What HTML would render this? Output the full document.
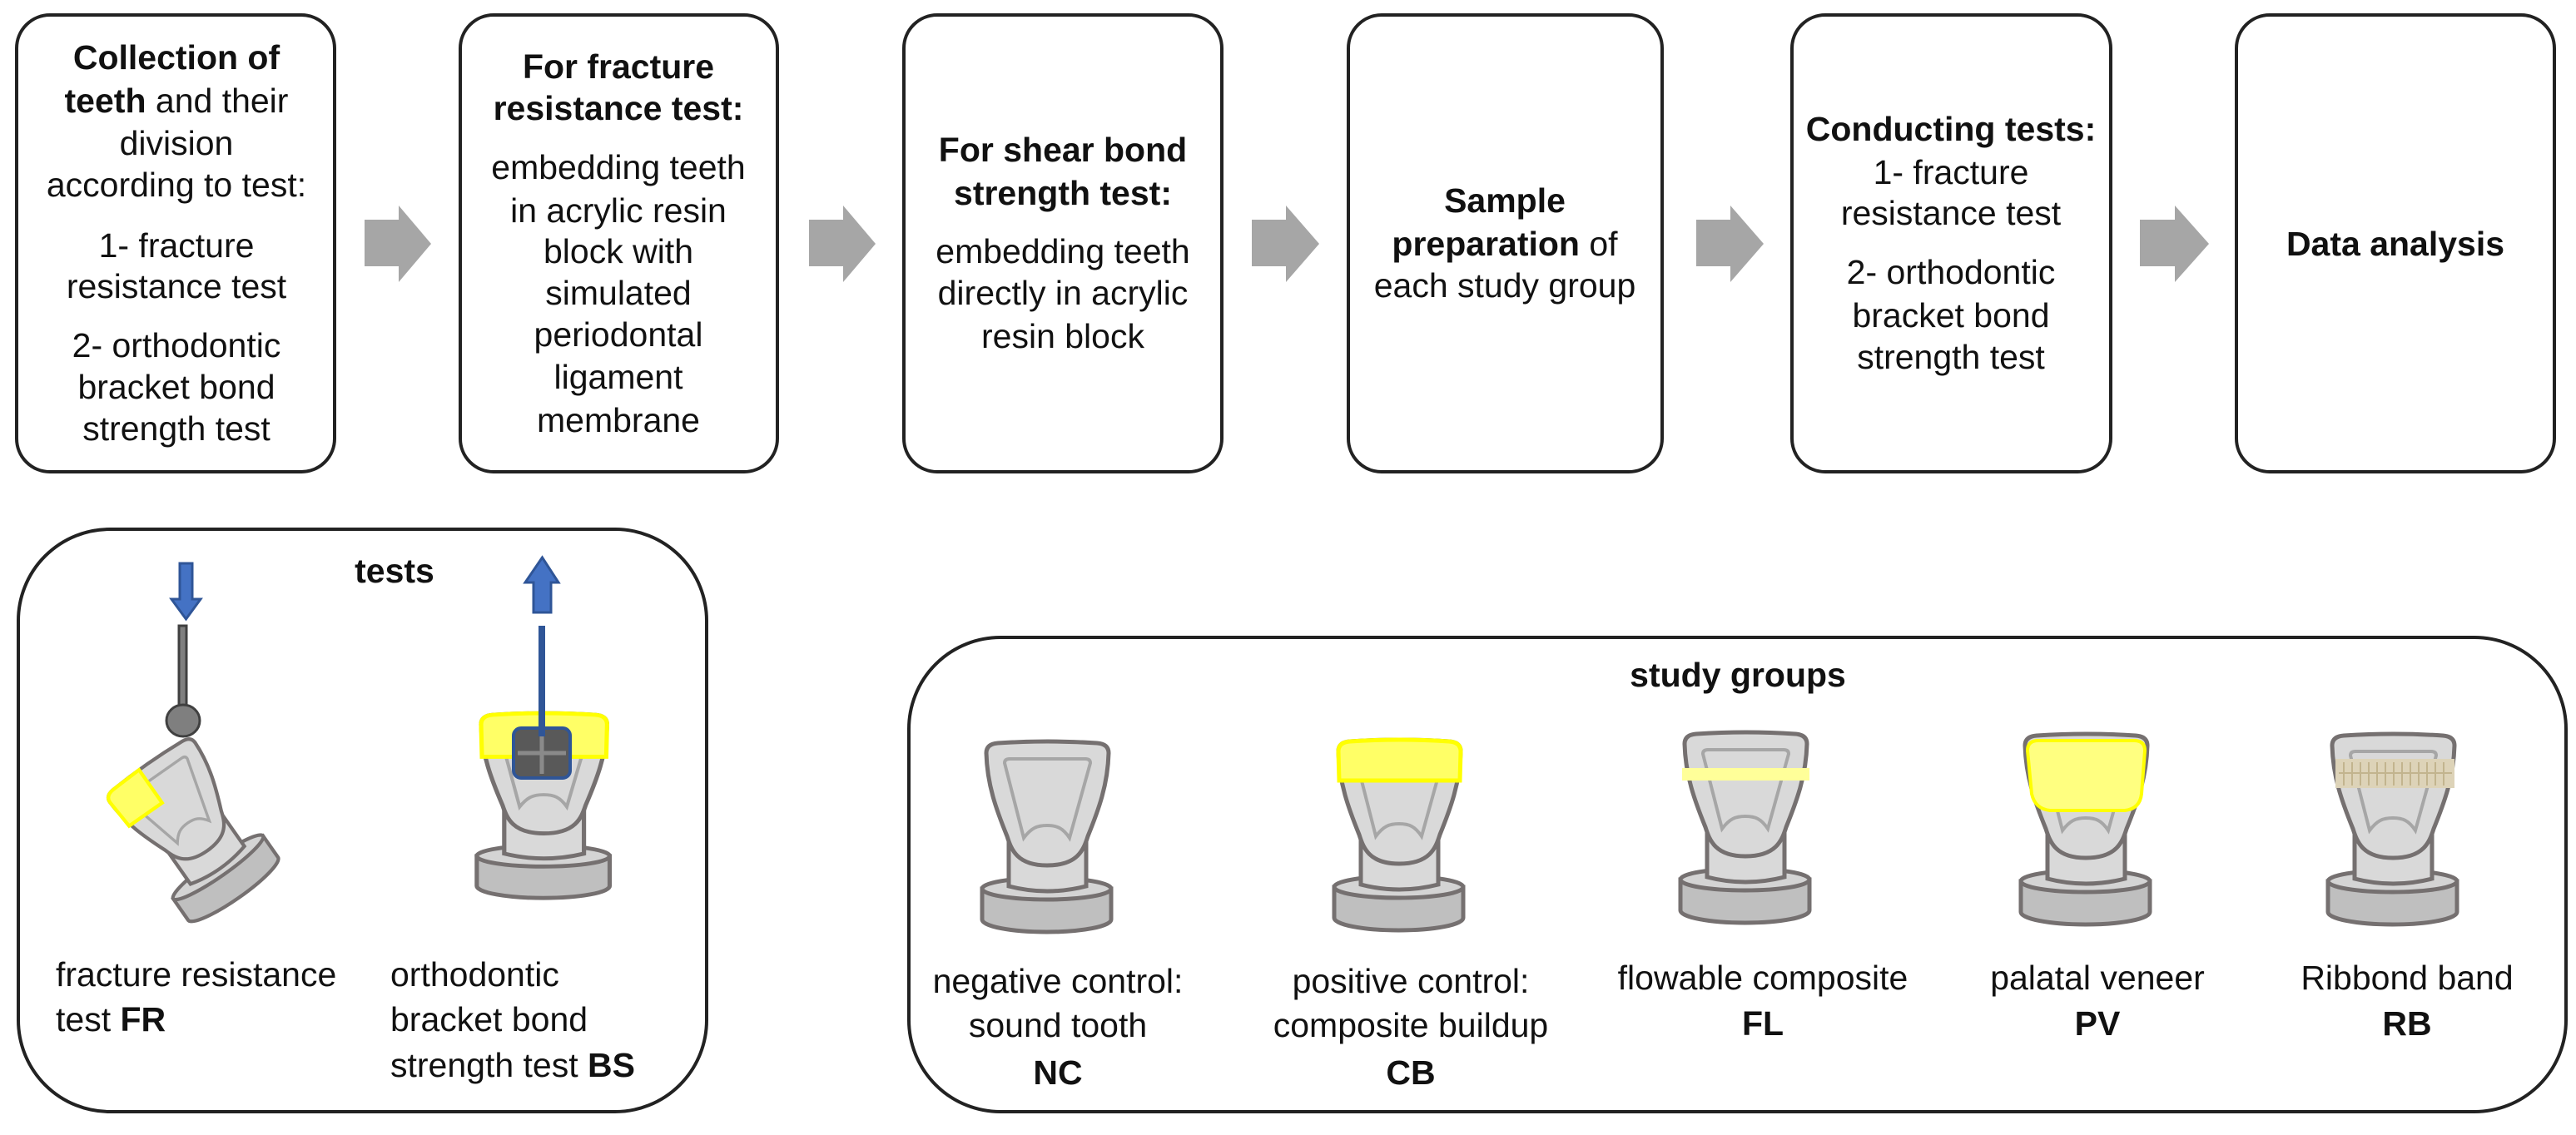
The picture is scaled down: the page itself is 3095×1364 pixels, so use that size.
<!DOCTYPE html>
<html><head><meta charset="utf-8"><style>
html,body{margin:0;padding:0;background:#fff}
svg{display:block}
text{font-family:"Liberation Sans",sans-serif;font-size:41px;fill:#111}
.b{font-weight:bold}
</style></head><body>
<svg width="3095" height="1364" viewBox="0 0 3095 1364" xmlns="http://www.w3.org/2000/svg">
<defs>
<g id="tooth">
  <path d="M -5 175 L -5 212 A 77.5 15 0 0 0 150 212 L 150 175 Z" fill="#bfbfbf" stroke="#757070" stroke-width="5"/>
  <ellipse cx="72.5" cy="175" rx="77.5" ry="13" fill="#d4d4d4" stroke="#757070" stroke-width="5"/>
  <path d="M 27 100 L 27 172 Q 73 184 120 172 L 120 100 Z" fill="#d9d9d9" stroke="#757070" stroke-width="5"/>
  <path d="M 0 12 Q 0 1 14 0 Q 74 -4 133 0 Q 147 1 147 12 C 146 50 135 80 122 112 C 117 128 110 147 73 147 C 37 147 30 128 25 112 C 12 80 1 50 0 12 Z" fill="#d9d9d9" stroke="#757070" stroke-width="5"/>
  <path d="M 22 24 Q 22 19 28 19 L 119 19 Q 125 19 125 24 L 100 114 C 92 102 85 99 73 99 C 61 99 54 102 45 114 Z" fill="none" stroke="#a6a6a6" stroke-width="4"/>
</g>
<path id="cap" d="M 0 12 Q 0 1 14 0 Q 74 -4 133 0 Q 147 1 147 12 L 146 47 L 1 47 Z" fill="#ffff66" stroke="#ffff00" stroke-width="5"/>
</defs>

<!-- top boxes -->
<g fill="#fff" stroke="#222" stroke-width="4">
<rect x="20" y="18" width="382" height="549" rx="40"/>
<rect x="553" y="18" width="381" height="549" rx="40"/>
<rect x="1086" y="18" width="382" height="549" rx="40"/>
<rect x="1620" y="18" width="377" height="549" rx="40"/>
<rect x="2153" y="18" width="383" height="549" rx="40"/>
<rect x="2687" y="18" width="382" height="549" rx="40"/>
</g>
<g fill="#a6a6a6">
<polygon points="438,264 479,264 479,247 518,293 479,339 479,320 438,320"/>
<polygon points="972,264 1013,264 1013,247 1052,293 1013,339 1013,320 972,320"/>
<polygon points="1504,264 1545,264 1545,247 1585,293 1545,339 1545,320 1504,320"/>
<polygon points="2038,264 2079,264 2079,247 2119,293 2079,339 2079,320 2038,320"/>
<polygon points="2571,264 2613,264 2613,247 2654,293 2613,339 2613,320 2571,320"/>
</g>

<g text-anchor="middle">
<text x="212" y="83" class="b">Collection of</text>
<text x="212" y="135"><tspan class="b">teeth</tspan> and their</text>
<text x="212" y="186">division</text>
<text x="212" y="236">according to test:</text>
<text x="212" y="309">1- fracture</text>
<text x="212" y="358">resistance test</text>
<text x="212" y="429">2- orthodontic</text>
<text x="212" y="479">bracket bond</text>
<text x="212" y="529">strength test</text>

<text x="743" y="94" class="b">For fracture</text>
<text x="743" y="144" class="b">resistance test:</text>
<text x="743" y="215">embedding teeth</text>
<text x="743" y="267">in acrylic resin</text>
<text x="743" y="316">block with</text>
<text x="743" y="366">simulated</text>
<text x="743" y="416">periodontal</text>
<text x="743" y="467">ligament</text>
<text x="743" y="519">membrane</text>

<text x="1277" y="194" class="b">For shear bond</text>
<text x="1277" y="246" class="b">strength test:</text>
<text x="1277" y="316">embedding teeth</text>
<text x="1277" y="366">directly in acrylic</text>
<text x="1277" y="418">resin block</text>

<text x="1808" y="255" class="b">Sample</text>
<text x="1808" y="307"><tspan class="b">preparation</tspan> of</text>
<text x="1808" y="357">each study group</text>

<text x="2344" y="169" class="b">Conducting tests:</text>
<text x="2344" y="221">1- fracture</text>
<text x="2344" y="270">resistance test</text>
<text x="2344" y="341">2- orthodontic</text>
<text x="2344" y="393">bracket bond</text>
<text x="2344" y="443">strength test</text>

<text x="2878" y="307" class="b">Data analysis</text>
</g>

<!-- tests panel -->
<rect x="22" y="636" width="827" height="700" rx="110" fill="#fff" stroke="#222" stroke-width="4"/>
<text x="474" y="700" text-anchor="middle" class="b" font-size="42">tests</text>
<polygon points="216,677 231,677 231,720 241,720 223.5,744 206,720 216,720" fill="#4472c4" stroke="#2f5597" stroke-width="3"/>
<rect x="215" y="752" width="9" height="100" fill="#7f7f7f" stroke="#404040" stroke-width="3"/>
<ellipse cx="220" cy="866" rx="20" ry="19" fill="#7f7f7f" stroke="#404040" stroke-width="3"/>
<g transform="translate(235,1000) rotate(-35) scale(0.85) translate(-75,-116)">
  <use href="#tooth"/>
  <path d="M 0 12 Q 0 1 14 0 L 60 -2 L 60 55 L 3 55 Z" fill="#ffff66" stroke="#ffff00" stroke-width="5"/>
</g>
<g transform="translate(578,859) scale(1.03,0.97)">
  <use href="#tooth"/>
  <path d="M 0 12 Q 0 1 14 0 Q 74 -4 133 0 Q 147 1 147 12 L 146 52 L 1 52 Z" fill="#ffff66" stroke="#ffff00" stroke-width="5"/>
</g>
<rect x="617" y="875" width="68" height="60" rx="9" fill="#595959" stroke="#2f5597" stroke-width="4"/>
<path d="M 651 880 L 651 930 M 622 905 L 680 905" stroke="#8a8a8a" stroke-width="5"/>
<line x1="651" y1="752" x2="651" y2="885" stroke="#2f5597" stroke-width="8"/>
<polygon points="641,736 662,736 662,700 671,700 651.5,670 631,700 641,700" fill="#4472c4" stroke="#2f5597" stroke-width="3"/>
<text x="67" y="1185">fracture resistance</text>
<text x="67" y="1239">test <tspan class="b">FR</tspan></text>
<text x="469" y="1185">orthodontic</text>
<text x="469" y="1239">bracket bond</text>
<text x="469" y="1294">strength test <tspan class="b">BS</tspan></text>

<!-- study groups panel -->
<rect x="1092" y="766" width="1991" height="570" rx="110" fill="#fff" stroke="#222" stroke-width="4"/>
<text x="2088" y="825" text-anchor="middle" class="b" font-size="42">study groups</text>

<g transform="translate(1185,893)"><use href="#tooth"/></g>
<g transform="translate(1608,891)"><use href="#tooth"/><use href="#cap"/></g>
<g transform="translate(2024,882)"><use href="#tooth"/><rect x="-3" y="41" width="153" height="15" fill="#ffff99"/></g>
<g transform="translate(2433,884)"><use href="#tooth"/>
  <path d="M 3 18 Q 3 6 16 6 L 131 6 Q 144 6 144 18 L 140 70 Q 138 88 120 90 L 30 90 Q 12 88 8 70 Z" fill="#ffff80" stroke="#ffff00" stroke-width="4"/></g>
<g transform="translate(2802,884)"><use href="#tooth"/>
  <rect x="4" y="28" width="143" height="35" fill="#ddd3b8"/>
  <path d="M 14 32 V 60 M 24 32 V 60 M 34 32 V 60 M 44 32 V 60 M 54 32 V 60 M 64 32 V 60 M 74 32 V 60 M 84 32 V 60 M 94 32 V 60 M 104 32 V 60 M 114 32 V 60 M 124 32 V 60 M 134 32 V 60 M 8 45 H 144" stroke="#c2b48e" stroke-width="2"/></g>

<g text-anchor="middle">
<text x="1271" y="1193">negative control:</text>
<text x="1271" y="1246">sound tooth</text>
<text x="1271" y="1303" class="b">NC</text>
<text x="1695" y="1193">positive control:</text>
<text x="1695" y="1246">composite buildup</text>
<text x="1695" y="1303" class="b">CB</text>
<text x="2118" y="1189">flowable composite</text>
<text x="2118" y="1244" class="b">FL</text>
<text x="2520" y="1189">palatal veneer</text>
<text x="2520" y="1244" class="b">PV</text>
<text x="2892" y="1189">Ribbond band</text>
<text x="2892" y="1244" class="b">RB</text>
</g>
</svg>
</body></html>
